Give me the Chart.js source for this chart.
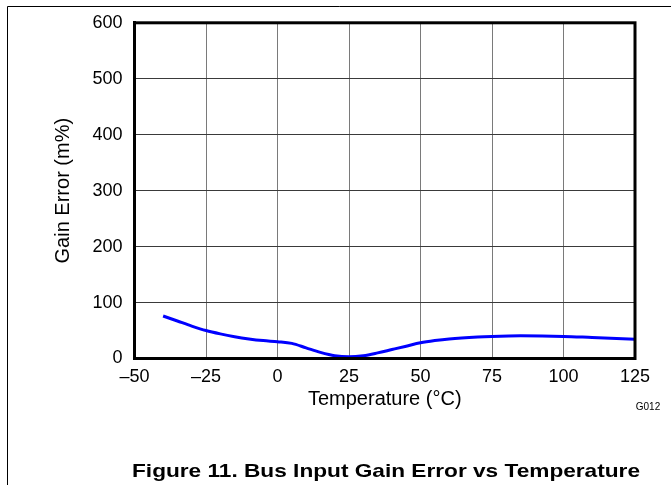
<!DOCTYPE html>
<html>
<head>
<meta charset="utf-8">
<script src="https://cdn.jsdelivr.net/npm/chart.js@4/dist/chart.umd.min.js"></script>
<style>
  html, body { margin: 0; padding: 0; background: #fff; }
  #wrap { width: 671px; height: 485px; position: relative; }
</style>
</head>
<body>
<div id="wrap"><canvas id="chartGainError"></canvas></div>
<script>
/* ---------- Datos ---------- */
const temperatures = [-40, -35, -30, -25, -20, -15, -10, -5, 0, 5, 10, 15, 20, 25, 30, 35, 40, 45, 50, 55, 60, 70, 75, 85, 100, 110, 125];
const gainError = [76, 67, 58, 50, 44, 39, 35, 32, 30, 27, 19, 11, 5, 3, 5, 10, 16, 22, 28, 32, 35, 38.5, 39.5, 40.5, 39.5, 37.5, 34.5];
const xTicks = [-50, -25, 0, 25, 50, 75, 100, 125];
const yTicks = [0, 100, 200, 300, 400, 500, 600];
const xTitle = "Temperature (°C)";
const yTitle = "Gain Error (m%)";
const caption = "Figure 11. Bus Input Gain Error vs Temperature";
const figCode = "G012";

const fontFamily = "'Liberation Sans', Arial, Helvetica, sans-serif";

/* ---------- Marco, borde grueso y textos ---------- */
const framePlugin = {
  id: "frame",
  afterDraw(chart) {
    const { ctx, chartArea } = chart;
    ctx.save();
    // marco de la página
    ctx.strokeStyle = "#000";
    ctx.lineWidth = 1;
    ctx.beginPath();
    ctx.moveTo(7.5, 485);
    ctx.lineTo(7.5, 6.5);
    ctx.lineTo(671, 6.5);
    ctx.stroke();
    // borde del área de trazado
    ctx.lineWidth = 3;
    ctx.strokeRect(chartArea.left, chartArea.top, chartArea.right - chartArea.left, chartArea.bottom - chartArea.top);
    // código de figura
    ctx.fillStyle = "#000";
    ctx.font = "10px " + fontFamily;
    ctx.textAlign = "center";
    ctx.textBaseline = "middle";
    ctx.fillText(figCode, 648, 407);
    // pie de figura (ancho como en el original)
    ctx.font = "bold 19px " + fontFamily;
    const w = ctx.measureText(caption).width;
    ctx.translate(386, 472);
    ctx.scale(508 / w, 1);
    ctx.fillText(caption, 0, 0);
    ctx.restore();
  },
};

const minus = (v) => String(v).replace("-", "\u2013");

new Chart(document.getElementById("chartGainError"), {
  type: "line",
  data: {
    datasets: [
      {
        data: temperatures.map((t, i) => ({ x: t, y: gainError[i] })),
        borderColor: "#0000ff",
        borderWidth: 3,
        pointRadius: 0,
        cubicInterpolationMode: "monotone",
        fill: false,
      },
    ],
  },
  options: {
    responsive: true,
    maintainAspectRatio: false,
    animation: false,
    layout: { padding: { left: 51, top: 20, right: 36, bottom: 73.5 } },
    plugins: { legend: { display: false }, tooltip: { enabled: false } },
    scales: {
      x: {
        type: "linear",
        min: xTicks[0],
        max: xTicks[xTicks.length - 1],
        afterBuildTicks: (s) => { s.ticks = xTicks.map((v) => ({ value: v })); },
        afterFit: (s) => { s.height = 53; },
        ticks: { color: "#000", font: { family: fontFamily, size: 18 }, padding: 8, maxRotation: 0, callback: minus },
        grid: { color: "#7a7a7a", lineWidth: 1, drawTicks: false },
        border: { color: "#000", width: 3 },
        title: { display: true, text: xTitle, color: "#000", font: { family: fontFamily, size: 20 }, padding: 0 },
      },
      y: {
        min: yTicks[0],
        max: yTicks[yTicks.length - 1],
        afterBuildTicks: (s) => { s.ticks = yTicks.map((v) => ({ value: v })); },
        afterFit: (s) => { s.width = 83.5; },
        ticks: { color: "#000", font: { family: fontFamily, size: 18 }, padding: 12 },
        grid: { color: "#3a3a3a", lineWidth: 1, drawTicks: false },
        border: { color: "#000", width: 3 },
        title: { display: true, text: yTitle, color: "#000", font: { family: fontFamily, size: 20 }, padding: 0 },
      },
    },
  },
  plugins: [framePlugin],
});
</script>
</body>
</html>
